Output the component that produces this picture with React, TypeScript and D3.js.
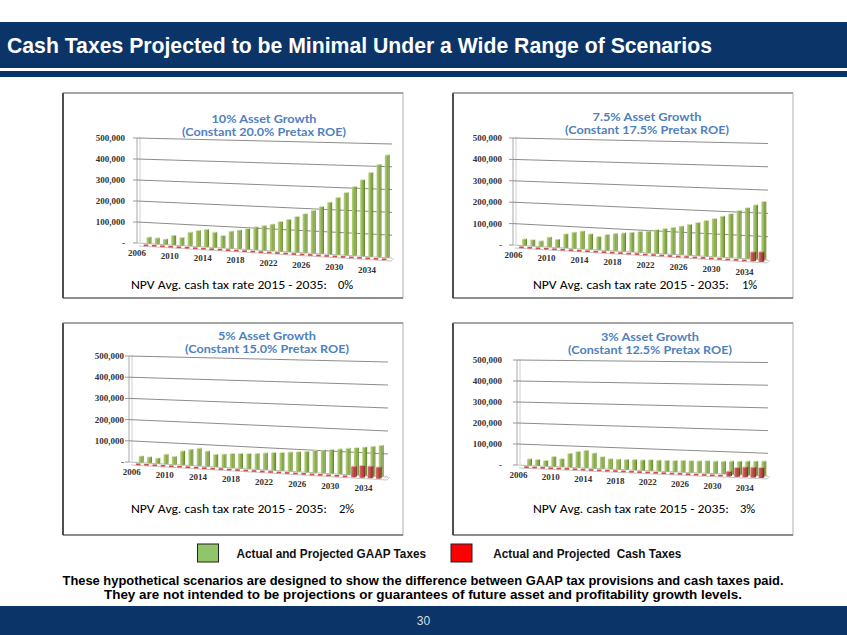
import React from 'react';
import * as d3 from 'd3';

// ---------- DATA ----------
const years = [2006, 2007, 2008, 2009, 2010, 2011, 2012, 2013, 2014, 2015, 2016, 2017, 2018, 2019, 2020,
  2021, 2022, 2023, 2024, 2025, 2026, 2027, 2028, 2029, 2030, 2031, 2032, 2033, 2034, 2035];
const tickYears = [2006, 2010, 2014, 2018, 2022, 2026, 2030, 2034];
const yTickValues = [0, 100, 200, 300, 400, 500]; // thousands
const yTickLabels = ['-', '100,000', '200,000', '300,000', '400,000', '500,000'];

// GAAP taxes (thousands) – actual history shared by all scenarios
const gaapHistory = [30, 28, 25, 45, 37, 64, 74, 81, 70];
const gaapProj10 = [56, 79, 86, 94, 104, 112, 121, 134, 146, 160, 175, 192, 210, 232, 255, 278, 306, 337, 371, 408, 450];
const gaapProj75 = [59, 70, 77, 82, 87, 92, 96, 104, 111, 118, 126, 135, 145, 155, 165, 178, 190, 205, 219, 233, 249];
const gaapProj5 = [57, 60, 64, 66, 68, 71, 75, 78, 81, 85, 88, 92, 97, 101, 105, 110, 115, 119, 124, 129, 135];
const gaapProj3 = [54, 46, 46, 46, 47, 47, 49, 49, 50, 50, 52, 52, 53, 55, 55, 56, 58, 59, 61, 62, 64];

// Cash taxes (thousands)
const cash10 = [0, 0, 0, 0, 0, 0, 0, 0, 0, 0, 0, 0, 0, 0, 0, 0, 0, 0, 0, 0, 0, 0, 0, 0, 0, 0, 0, 0, 0, 0];
const cash75 = [0, 0, 0, 0, 0, 0, 0, 0, 0, 0, 0, 0, 0, 0, 0, 0, 0, 0, 0, 0, 0, 0, 0, 0, 0, 0, 0, 0, 40, 42];
const cash5 = [0, 0, 0, 0, 0, 0, 0, 0, 0, 0, 0, 0, 0, 0, 0, 0, 0, 0, 0, 0, 0, 0, 0, 0, 0, 0, 47, 52, 52, 50];
const cash3 = [0, 0, 0, 0, 0, 0, 0, 0, 0, 0, 0, 0, 0, 0, 0, 0, 0, 0, 0, 0, 0, 0, 0, 0, 0, 22, 40, 44, 45, 44];

const titles1 = ['10% Asset Growth', '7.5% Asset Growth', '5% Asset Growth', '3% Asset Growth'];
const titles2 = ['(Constant 20.0% Pretax ROE)', '(Constant 17.5% Pretax ROE)', '(Constant 15.0% Pretax ROE)', '(Constant 12.5% Pretax ROE)'];
const npvRates = ['0%', '1%', '2%', '3%'];

const headerTitle = 'Cash Taxes Projected to be Minimal Under a Wide Range of Scenarios';
const legendLabels = ['Actual and Projected GAAP Taxes', 'Actual and Projected  Cash Taxes'];
const footLines = [
  'These hypothetical scenarios are designed to show the difference between GAAP tax provisions and cash taxes paid.',
  'They are not intended to be projections or guarantees of future asset and profitability growth levels.',
];
const pageNumber = '30';

// ---------- LAYOUT ----------
const NAVY = '#0B3468';

type Geo = {
  box: [number, number, number, number];
  wallL: number; wallR: number; floorL: number; floorR: number; pL: number; pR: number;
  bx0: number; bx1: number; labelX: number; titleX: number; titleY: number;
  npvY: number; npvX: number; pctX: number; catDx: number; t1w: number;
};

const geos: Geo[] = [
  { box: [63, 93, 403, 298], wallL: 137, wallR: 392, floorL: 243, floorR: 258, pL: 0.21, pR: 0.228,
    bx0: 148.5, bx1: 386.7, labelX: 125, titleX: 264, titleY: 119, npvY: 283, npvX: 131, pctX: 338, catDx: -11.5, t1w: 105 },
  { box: [453, 93, 793, 298], wallL: 513, wallR: 768, floorL: 245, floorR: 260, pL: 0.214, pR: 0.233,
    bx0: 524, bx1: 763.3, labelX: 502, titleX: 647, titleY: 117, npvY: 283, npvX: 533, pctX: 742, catDx: -10.5, t1w: 109 },
  { box: [63, 323, 403, 535], wallL: 129, wallR: 388, floorL: 462, floorR: 477, pL: 0.212, pR: 0.23,
    bx0: 140.7, bx1: 380.7, labelX: 124, titleX: 267, titleY: 336, npvY: 507, npvX: 131, pctX: 339, catDx: -9, t1w: 98 },
  { box: [453, 323, 793, 535], wallL: 517, wallR: 768, floorL: 465, floorR: 476, pL: 0.21, pR: 0.227,
    bx0: 529, bx1: 763.3, labelX: 502, titleX: 650, titleY: 337, npvY: 507, npvX: 533, pctX: 740, catDx: -10.5, t1w: 98 },
];

const gaapSeries = [
  [...gaapHistory, ...gaapProj10],
  [...gaapHistory, ...gaapProj75],
  [...gaapHistory, ...gaapProj5],
  [...gaapHistory, ...gaapProj3],
];
const cashSeries = [cash10, cash75, cash5, cash3];

function Bar({ cx, base, top, w, d, front, side, cap }: any) {
  const h = Math.max(base - top, 0);
  const t = base - h;
  const r = cx + w / 2;
  const l = cx - w / 2;
  const dy = d * 0.6;
  return (
    <g>
      <polygon points={`${r},${t} ${r + d},${t - dy} ${r + d},${base - dy} ${r},${base}`} fill={side} />
      <rect x={l} y={t} width={w} height={Math.max(h, 0.01)} fill={front} />
      <polygon points={`${l},${t} ${l + d},${t - dy} ${r + d},${t - dy} ${r},${t}`} fill={cap} />
    </g>
  );
}

function Panel({ idx }: { idx: number }) {
  const g = geos[idx];
  const gaap = gaapSeries[idx];
  const cash = cashSeries[idx];
  const x = d3.scaleLinear().domain([0, years.length - 1]).range([g.bx0, g.bx1]);
  const floor = d3.scaleLinear().domain([g.wallL, g.wallR]).range([g.floorL, g.floorR]);
  const ppu = d3.scaleLinear().domain([g.wallL, g.wallR]).range([g.pL, g.pR]);
  const yAt = (v: number, px: number) => floor(px) - v * ppu(px);
  const [bx0, by0, bx1, by1] = g.box;
  const serif = "'Liberation Serif', 'DejaVu Serif', serif";
  const top500L = yAt(500, g.wallL);
  return (
    <g>
      {/* panel frame */}
      <rect x={bx0} y={by0} width={bx1 - bx0} height={by1 - by0} fill="#fff" stroke="#b0b0b0" strokeWidth={1} />
      <line x1={bx0} y1={by0} x2={bx0} y2={by1} stroke="#222" strokeWidth={1.5} />
      <line x1={bx0} y1={by1} x2={bx1} y2={by1} stroke="#444" strokeWidth={1} />
      <line x1={bx0} y1={by0} x2={bx1} y2={by0} stroke="#777" strokeWidth={1.2} />

      {/* titles */}
      <text x={g.titleX} y={g.titleY + 3.5} textAnchor="middle" fontFamily="Lato, 'Open Sans', sans-serif"
        fontWeight={700} fontSize={11} fill="#4F81BD" textLength={g.t1w} lengthAdjust="spacingAndGlyphs">{titles1[idx]}</text>
      <text x={g.titleX} y={g.titleY + 17} textAnchor="middle" fontFamily="Lato, 'Open Sans', sans-serif"
        fontWeight={700} fontSize={11} fill="#4F81BD" textLength={164} lengthAdjust="spacingAndGlyphs">{titles2[idx]}</text>

      {/* walls */}
      <line x1={g.wallL} y1={g.floorL} x2={g.wallL} y2={top500L} stroke="#a8a8a8" strokeWidth={1} />
      <line x1={g.wallL + 3} y1={g.floorL - 1} x2={g.wallL + 3} y2={top500L - 1} stroke="#d0d0d0" strokeWidth={1} />
      {yTickValues.map((v, i) => (
        <g key={v}>
          <line x1={g.wallL} y1={yAt(v, g.wallL)} x2={g.wallR} y2={yAt(v, g.wallR)}
            stroke={v === 0 ? '#b8b8b8' : '#8c8c8c'} strokeWidth={1} />
          <line x1={g.wallL - 4} y1={yAt(v, g.wallL)} x2={g.wallL} y2={yAt(v, g.wallL)} stroke="#999" strokeWidth={1} />
          <text x={g.labelX} y={yAt(v, g.wallL) + 3} textAnchor="end" fontFamily={serif} fontWeight={700}
            fontSize={9} fill="#333">{yTickLabels[i]}</text>
        </g>
      ))}
      {/* floor front edge */}
      <line x1={g.wallL + 2} y1={g.floorL + 3} x2={g.wallR - 1} y2={g.floorR + 3} stroke="#c8c8c8" strokeWidth={1} />
      <line x1={g.wallR - 1} y1={g.floorR + 3} x2={g.wallR + 2} y2={g.floorR} stroke="#c8c8c8" strokeWidth={1} />

      {/* GAAP bars (back row) */}
      {gaap.map((v, i) => {
        const cx = x(i);
        return <Bar key={'g' + i} cx={cx} base={floor(cx)} top={yAt(v, cx)} w={3.8} d={1.1}
          front="url(#gradGreen)" side="#6B8A33" cap="#C5DE94" />;
      })}
      {/* Cash tax bars (front row) */}
      {cash.map((v, i) => {
        const cx = x(i) - 2.5;
        const base = floor(x(i)) + 2.2;
        if (v === 0) {
          return <rect key={'c' + i} x={cx - 2.3} y={base - 1.4} width={4.6} height={1.7} fill="#D0504C" />;
        }
        return <Bar key={'c' + i} cx={cx} base={base} top={base - v * ppu(x(i))} w={4.4} d={1.3}
          front="url(#gradRed)" side="#8E2F2C" cap="#E39593" />;
      })}

      {/* category labels */}
      {tickYears.map((yr) => {
        const i = years.indexOf(yr);
        const cx = x(i);
        const t = i / (years.length - 1);
        return (
          <text key={yr} x={cx + g.catDx} y={floor(cx) + 12.5 + 3 * t} textAnchor="middle" fontFamily={serif}
            fontWeight={700} fontSize={9} fill="#333">{yr}</text>
        );
      })}

      {/* NPV */}
      <text x={g.npvX} y={g.npvY + 5.5} fontFamily="Carlito, Lato, sans-serif" fontSize={12.5} fill="#000"
        textLength={196} lengthAdjust="spacingAndGlyphs">NPV Avg. cash tax rate 2015 - 2035:</text>
      <text x={g.pctX} y={g.npvY + 5.5} fontFamily="Carlito, Lato, sans-serif" fontSize={12.5} fill="#000">{npvRates[idx]}</text>
    </g>
  );
}

export default function App() {
  const W = 847, H = 635;
  const arialB = "'Liberation Sans', Arial, sans-serif";
  return (
    <svg width={W} height={H} viewBox={`0 0 ${W} ${H}`}
      style={{ position: 'absolute', left: 0, top: 0, display: 'block', background: '#fff' }}>
      <defs>
        <linearGradient id="gradGreen" x1="0" x2="1" y1="0" y2="0">
          <stop offset="0" stopColor="#B3D27E" />
          <stop offset="0.5" stopColor="#9BBB59" />
          <stop offset="1" stopColor="#76953B" />
        </linearGradient>
        <linearGradient id="gradRed" x1="0" x2="1" y1="0" y2="0">
          <stop offset="0" stopColor="#DA6E6A" />
          <stop offset="0.5" stopColor="#C0504D" />
          <stop offset="1" stopColor="#9A3532" />
        </linearGradient>
      </defs>
      <rect x={0} y={0} width={W} height={H} fill="#fff" />

      {/* header */}
      <rect x={0} y={22} width={W} height={46} fill={NAVY} />
      <rect x={0} y={71} width={W} height={6} fill={NAVY} />
      <text x={7} y={53} fontFamily="'Liberation Sans Narrow', 'Arial Narrow', 'Liberation Sans', Arial, sans-serif"
        fontWeight={700} fontSize={22} fill="#fff" textLength={705} lengthAdjust="spacingAndGlyphs">{headerTitle}</text>

      {[0, 1, 2, 3].map((i) => <Panel key={i} idx={i} />)}

      {/* legend */}
      <rect x={197.5} y={544} width={21} height={18} fill="#92C46A" stroke="#222" strokeWidth={1} />
      <text x={236.5} y={557.5} fontFamily={arialB} fontWeight={700} fontSize={12} fill="#111"
        textLength={189.5} lengthAdjust="spacingAndGlyphs">{legendLabels[0]}</text>
      <rect x={451} y={544} width={21} height={18} fill="#FF0000" stroke="#222" strokeWidth={1} />
      <text x={493.3} y={557.5} fontFamily={arialB} fontWeight={700} fontSize={12} fill="#111"
        textLength={188} lengthAdjust="spacingAndGlyphs" style={{ whiteSpace: 'pre' }}>{legendLabels[1]}</text>

      {/* footnote */}
      <text x={423} y={584.5} textAnchor="middle" fontFamily={arialB} fontWeight={700} fontSize={13} fill="#000"
        textLength={721} lengthAdjust="spacingAndGlyphs">{footLines[0]}</text>
      <text x={423} y={599} textAnchor="middle" fontFamily={arialB} fontWeight={700} fontSize={13} fill="#000"
        textLength={638} lengthAdjust="spacingAndGlyphs">{footLines[1]}</text>

      {/* footer */}
      <rect x={0} y={606} width={W} height={29} fill={NAVY} />
      <text x={423.5} y={625} textAnchor="middle" fontFamily={arialB} fontSize={12} fill="#D8DEE8">{pageNumber}</text>
    </svg>
  );
}
